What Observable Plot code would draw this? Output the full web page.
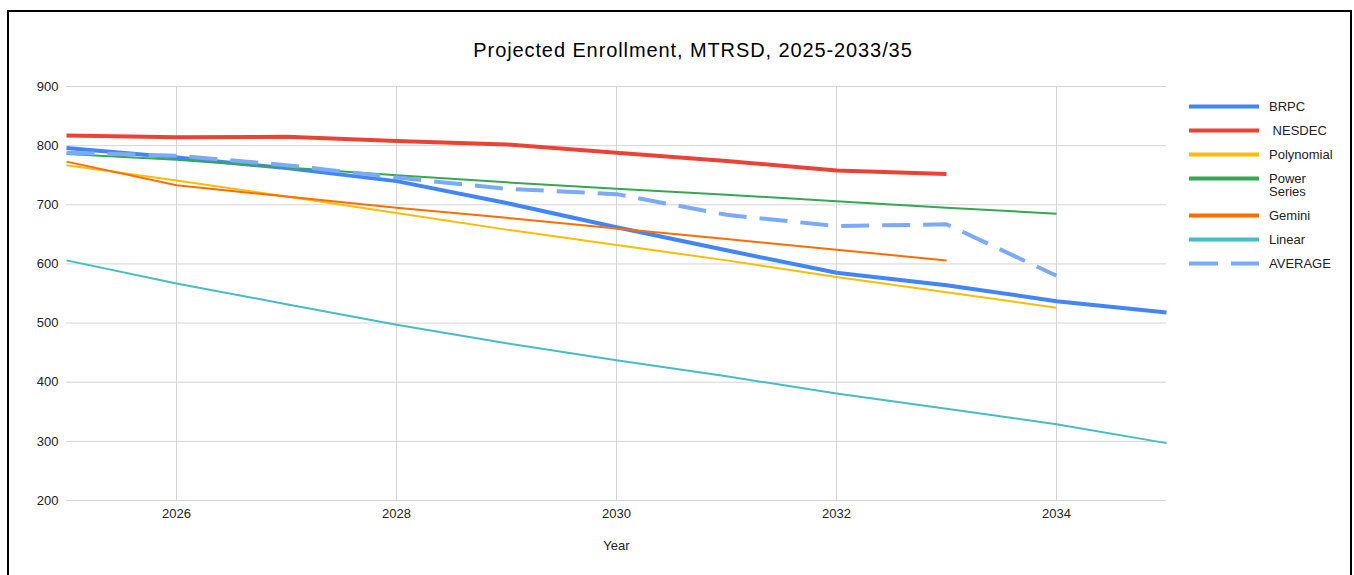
<!DOCTYPE html>
<html>
<head>
<meta charset="utf-8">
<script src="https://cdn.jsdelivr.net/npm/d3@7"></script>
<script src="https://cdn.jsdelivr.net/npm/@observablehq/plot@0.6"></script>
<style>
  html, body { margin: 0; padding: 0; background: #fff; }
  body {
    width: 1354px; height: 575px; overflow: hidden; position: relative;
    font-family: Arial, "Liberation Sans", sans-serif; color: #222;
  }
  #frame {
    position: absolute; left: 7px; top: 10px; width: 1345px; height: 620px;
    border: 2px solid #000; box-sizing: border-box;
  }
  #title {
    position: absolute; left: 0; top: 40px; width: 1386px; text-align: center;
    font-size: 20px; line-height: 20px; letter-spacing: 0.9px; color: #000;
  }
  #chart svg { position: absolute; left: 0; top: 0; }
  #legend {
    position: absolute; left: 1189px; top: 100px;
    font-size: 13px; line-height: 13px; color: #222;
  }
  .row { display: flex; align-items: flex-start; padding-bottom: 11px; }
  .row svg { flex: none; margin-top: 4px; margin-right: 10px; }
  .row span { white-space: pre; }
</style>
</head>
<body>
<div id="frame"></div>
<div id="title">Projected Enrollment, MTRSD, 2025-2033/35</div>
<div id="chart"></div>
<div id="legend"></div>
<script>
// Projection years and axis ticks
const years = [2025, 2026, 2027, 2028, 2029, 2030, 2031, 2032, 2033, 2034, 2035];
const xTicks = [2026, 2028, 2030, 2032, 2034];
const yTicks = [200, 300, 400, 500, 600, 700, 800, 900];

// Enrollment projections per method (one value per year, starting 2025)
const brpc       = [796, 780, 762, 740, 703, 662, 623, 585, 564, 537, 518];
const nesdec     = [817, 814, 815, 808, 802, 788, 774, 758, 752];
const polynomial = [767, 741, 714, 686, 658, 632, 606, 578, 552, 526];
const powerSeries= [786, 776, 763, 750, 738, 727, 717, 706, 695, 685];
const gemini     = [773, 733, 714, 695, 678, 660, 642, 624, 606];
const linear     = [606, 567, 532, 497, 466, 437, 410, 381, 355, 329, 297];
const average    = [788, 783, 767, 746, 727, 718, 683, 664, 667, 580];

// Legend labels, in drawing order
const names = ["BRPC", " NESDEC", "Polynomial", "Power\nSeries", "Gemini", "Linear", "AVERAGE"];

const series = [
  {name: names[0], values: brpc,        color: "#4285f4", width: 4},
  {name: names[1], values: nesdec,      color: "#ea4335", width: 4},
  {name: names[2], values: polynomial,  color: "#fbbc04", width: 2},
  {name: names[3], values: powerSeries, color: "#34a853", width: 2},
  {name: names[4], values: gemini,      color: "#ff6d01", width: 2},
  {name: names[5], values: linear,      color: "#46bdc6", width: 2},
  {name: names[6], values: average,     color: "#7baaf7", width: 4, dash: "28,13"}
];

const rows = series.flatMap(s => s.values.map((v, i) => ({series: s.name, year: years[i], value: v})));

const gridStroke = "#d4d4d4";

const chart = Plot.plot({
  width: 1354,
  height: 575,
  marginLeft: 66,
  marginRight: 188,
  marginTop: 86,
  marginBottom: 75,
  style: {fontFamily: 'Arial, "Liberation Sans", sans-serif', fontSize: "13px", color: "#222", background: "transparent", overflow: "visible"},
  x: {domain: [2025, 2035]},
  y: {domain: [200, 900]},
  marks: [
    Plot.gridY(yTicks, {stroke: gridStroke, strokeOpacity: 1, strokeWidth: 1}),
    Plot.gridX(xTicks, {stroke: gridStroke, strokeOpacity: 1, strokeWidth: 1}),
    Plot.axisY(yTicks, {tickSize: 0, tickPadding: 8, label: null, fontSize: 13}),
    Plot.axisX(xTicks, {tickSize: 0, tickPadding: 8, label: null, tickFormat: "d", fontSize: 13}),
    ...series.map(s => Plot.line(rows.filter(r => r.series === s.name), {
      x: "year", y: "value",
      stroke: s.color, strokeWidth: s.width,
      strokeDasharray: s.dash,
      strokeLinecap: "butt", strokeLinejoin: "round",
      curve: "linear"
    })),
    Plot.text(["Year"], {frameAnchor: "bottom", dy: 45, lineAnchor: "middle", fontSize: 13, fill: "#222"})
  ]
});
document.getElementById("chart").appendChild(chart);

// Legend: a swatch per series followed by its label
const legend = d3.select("#legend");
series.forEach(s => {
  const row = legend.append("div").attr("class", "row");
  const sw = row.append("svg").attr("width", 70).attr("height", 5);
  sw.append("line")
    .attr("x1", 0).attr("x2", 70).attr("y1", 2.5).attr("y2", 2.5)
    .attr("stroke", s.color).attr("stroke-width", 4)
    .attr("stroke-dasharray", s.dash ? "29,13" : null);
  const label = row.append("span");
  s.name.split("\n").forEach((part, i) => {
    if (i > 0) label.append("br");
    label.append("span").text(part);
  });
});
</script>
</body>
</html>
